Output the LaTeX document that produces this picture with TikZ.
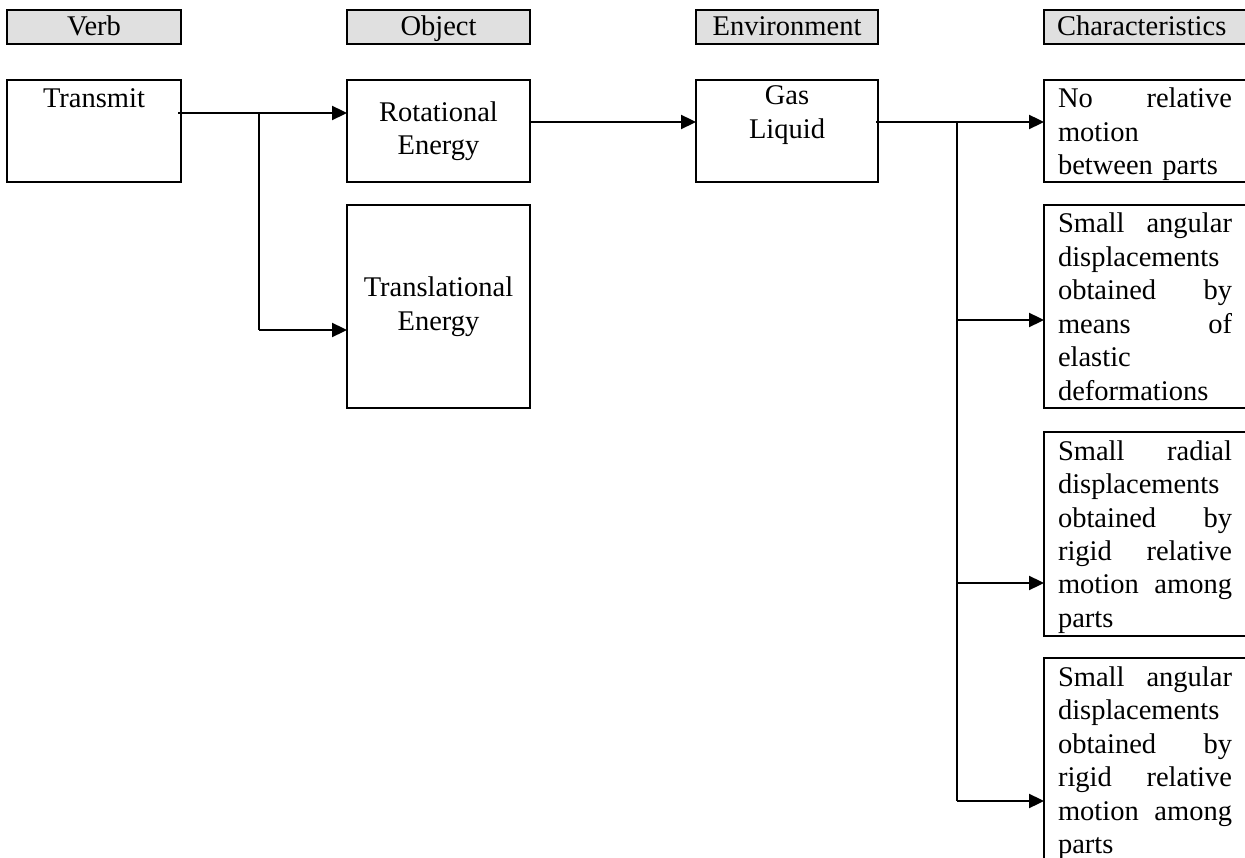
\documentclass[tikz,border=0pt]{standalone}
\usepackage{fontspec}
\setmainfont{Liberation Serif}
\usetikzlibrary{arrows.meta,calc}
\definecolor{hdrgray}{HTML}{E0E0E0}
\newcommand{\jl}[2]{\leavevmode\hbox to 174pt{#1\hfill#2}}
\newcommand{\fst}{\rule{0pt}{28pt}}
\begin{document}
\begin{tikzpicture}[x=1pt,y=-1pt,
  every node/.style={inner sep=0pt, outer sep=0pt},
  fnt/.style={font=\fontsize{28.5}{33.5}\selectfont},
  hdr/.style={draw, line width=2.3pt, fill=hdrgray, minimum height=34pt, text height=24pt, text depth=6pt, anchor=north west, fnt},
  bx/.style={draw, line width=2.3pt, anchor=north west, fnt, align=center},
  ttxt/.style={anchor=north, align=center, fnt},
  ctxt/.style={anchor=north west, align=left, text width=174pt, fnt},
  arr/.style={line width=2.3pt, -{Triangle[length=15pt,width=14pt]}},
  thinl/.style={line width=1.5pt}]
\useasboundingbox (0,0) rectangle (1245,858);
% headers
\node[hdr, minimum width=174pt] (hverb) at (7,10) {Verb};
\node[hdr, minimum width=183pt] (hobj) at (347,10) {Object};
\node[hdr, minimum width=182pt] (henv) at (696,10) {Environment};
\node[hdr, minimum width=203pt] (hchar) at (1044,10) {\hbox to 203pt{\hspace{13pt}Characteristics\hfil}};
% boxes
\node[bx, minimum width=174pt, minimum height=102pt] (transmit) at (7,80) {};
\node[bx, minimum width=183pt, minimum height=102pt] (rot) at (347,80) {Rotational\\Energy};
\node[bx, minimum width=183pt, minimum height=203pt] (trans) at (347,205) {Translational\\Energy};
\node[bx, minimum width=182pt, minimum height=102pt] (gas) at (696,80) {};
\node[bx, minimum width=203pt, minimum height=102pt] (c1) at (1044,80) {};
\node[bx, minimum width=203pt, minimum height=203pt] (c2) at (1044,205) {};
\node[bx, minimum width=203pt, minimum height=204pt] (c3) at (1044,432) {};
\node[bx, minimum width=203pt, minimum height=212pt] (c4) at (1044,658) {};
% texts
\node[ttxt] (ttransmit) at (transmit.north) {\fst Transmit};
\node[ttxt] (tgas) at (gas.north) {\rule{0pt}{25pt}Gas\\Liquid};
\node[ctxt] (tc1) at ($(c1.north west)+(14,0)$) {\fst\jl{No}{relative}\\motion\\between parts};
\node[ctxt] (tc2) at ($(c2.north west)+(14,0)$) {\fst\jl{Small}{angular}\\displacements\\\jl{obtained}{by}\\\jl{means}{of}\\elastic\\deformations};
\node[ctxt] (tc3) at ($(c3.north west)+(14,0)$) {\fst\jl{Small}{radial}\\displacements\\\jl{obtained}{by}\\\jl{rigid}{relative}\\\jl{motion}{among}\\parts};
\node[ctxt] (tc4) at ($(c4.north west)+(14,0)$) {\fst\jl{Small}{angular}\\displacements\\\jl{obtained}{by}\\\jl{rigid}{relative}\\\jl{motion}{among}\\parts};
% junctions
\coordinate (ja) at (259,113);
\coordinate (jb) at (259,330);
\coordinate (ra) at (0,122);
\coordinate (jc) at (957,122);
\coordinate (jd) at (957,320);
\coordinate (je) at (957,583);
\coordinate (jf) at (957,801);
% connectors
\draw[arr] ($(transmit.east |- ja)+(-3,0)$) -- (rot.west |- ja);
\draw[thinl] (ja) -- (jb);
\draw[arr] (jb) -- (trans.west |- jb);
\draw[arr] (rot.east |- ra) -- (gas.west |- ra);
\draw[arr] ($(gas.east |- ra)+(-2,0)$) -- (c1.west |- ra);
\draw[thinl] (jc) -- (jf);
\draw[arr] (jd) -- (c2.west |- jd);
\draw[arr] (je) -- (c3.west |- je);
\draw[arr] (jf) -- (c4.west |- jf);
\end{tikzpicture}
\end{document}
